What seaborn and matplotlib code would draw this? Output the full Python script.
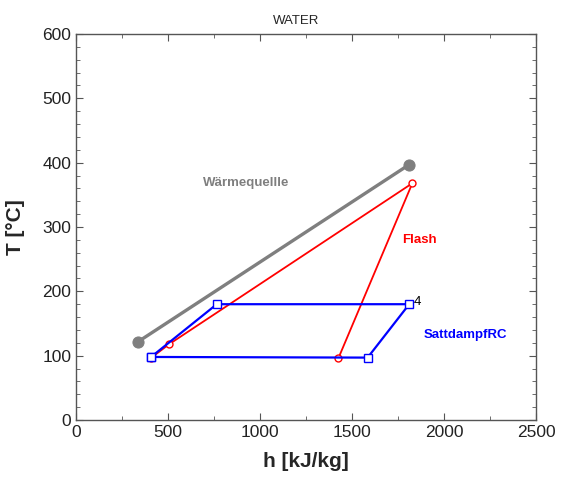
import seaborn as sns
import matplotlib.pyplot as plt
import pandas as pd

# heat source line
h_source = [339, 1811]
T_source = [122, 397]

# flash cycle
h_flash = [410, 507, 1828, 1426]
T_flash = [97, 118, 368, 96]

# saturated steam RC (closed loop)
h_rc = [408, 765, 1811, 1585, 408]
T_rc = [98, 180, 180, 97, 98]

sns.set_style("ticks")
plt.rcParams['font.family'] = ['Liberation Sans', 'DejaVu Sans']

fig = plt.figure(figsize=(5.61, 4.82), dpi=100)
ax = fig.add_axes([0.1355, 0.1286, 0.8199, 0.8009])

src = pd.DataFrame({"h": h_source, "T": T_source})
fl = pd.DataFrame({"h": h_flash, "T": T_flash})
rc = pd.DataFrame({"h": h_rc, "T": T_rc})

sns.lineplot(data=src, x="h", y="T", sort=False, estimator=None, ax=ax,
             color="#7f7f7f", linewidth=2.4, marker="o", markersize=8,
             markeredgecolor="#7f7f7f")
sns.lineplot(data=fl, x="h", y="T", sort=False, estimator=None, ax=ax,
             color="#ff0000", linewidth=1.3, marker="o", markersize=5,
             markerfacecolor="white", markeredgecolor="#ff0000", markeredgewidth=1)
sns.lineplot(data=rc, x="h", y="T", sort=False, estimator=None, ax=ax,
             color="#0000ff", linewidth=1.6, marker="s", markersize=6,
             markerfacecolor="white", markeredgecolor="#0000ff", markeredgewidth=1)

ax.text(924, 369, "Wärmequellle", color="#7f7f7f", fontsize=9.5, fontweight="bold",
        ha="center", va="center")
ax.text(1864, 280, "Flash", color="#ff0000", fontsize=9.5, fontweight="bold",
        ha="center", va="center")
ax.text(2114, 132, "SattdampfRC", color="#0000ff", fontsize=9.5, fontweight="bold",
        ha="center", va="center")
ax.text(1853, 184, "4", color="black", fontsize=9.5, ha="center", va="center")

ax.set_xlim(0, 2500)
ax.set_ylim(0, 600)
ax.set_xticks(range(0, 2501, 500))
ax.set_xticks(range(0, 2501, 250), minor=True)
ax.set_yticks(range(0, 601, 100))
ax.set_yticks(range(0, 601, 20), minor=True)
ax.tick_params(which="both", direction="in", top=True, right=True,
               labelsize=12.5, color="#555555", labelcolor="#222222")
ax.tick_params(which="major", length=5)
ax.tick_params(which="minor", length=3)
for s in ax.spines.values():
    s.set_color("#555555")
    s.set_linewidth(1)

ax.set_xlabel("h [kJ/kg]", fontsize=15, fontweight="bold", labelpad=9)
ax.set_ylabel("T [°C]", fontsize=15, fontweight="bold", labelpad=12)
fig.text(0.527, 0.957, "WATER", fontsize=9.5, ha="center", va="center")

fig.savefig("out.png", dpi=100)
